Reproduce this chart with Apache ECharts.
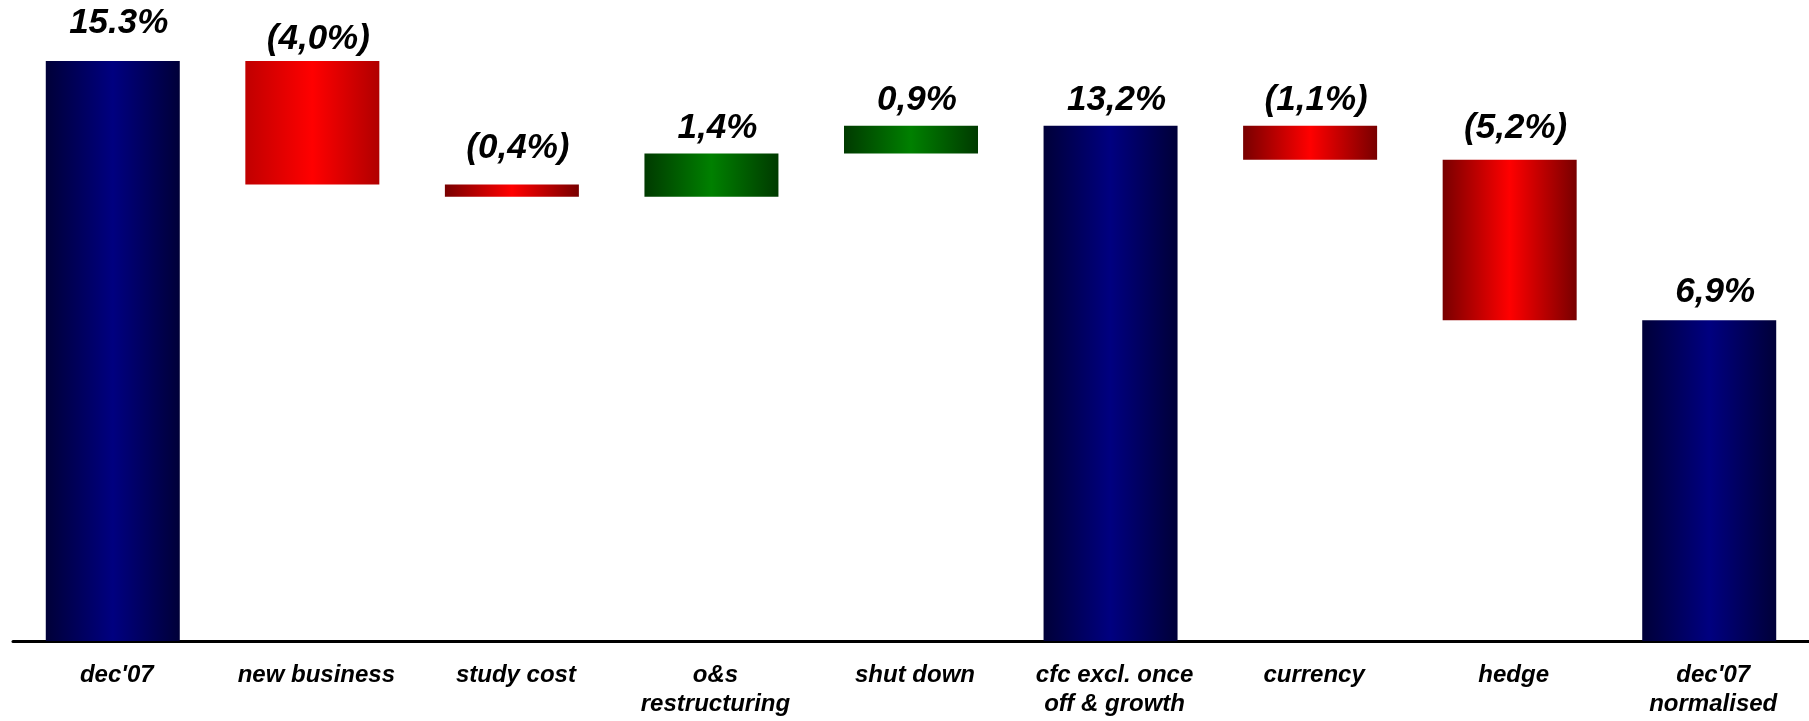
<!DOCTYPE html>
<html><head><meta charset="utf-8">
<script src="https://cdn.jsdelivr.net/npm/echarts@6/dist/echarts.min.js"></script>
<style>html,body{margin:0;padding:0;background:#fff}#c{width:1809px;height:721px}</style>
</head><body><div id="c"></div>
<script>
// ---- data ----
const categories = ["dec'07", "new business", "study cost", "o&s\nrestructuring", "shut down",
  "cfc excl. once\noff & growth", "currency", "hedge", "dec'07\nnormalised"];
const values = [15.3, -4.0, -0.4, 1.4, 0.9, 13.2, -1.1, -5.2, 6.9];
const kinds = ["total", "delta", "delta", "delta", "delta", "total", "delta", "delta", "total"];
const valueLabels = ["15.3%", "(4,0%)", "(0,4%)", "1,4%", "0,9%", "13,2%", "(1,1%)", "(5,2%)", "6,9%"];

// ---- style ----
const AXIS_MIN = -3.5, AXIS_MAX = 17;
const labelGap = [38, 22, 36, 25, 25, 25, 25, 31, 28];
const FONT = '"Liberation Sans", Arial, sans-serif';
function grad(dark, mid, dark2) {
  return new echarts.graphic.LinearGradient(0, 0, 1, 0, [
    {offset: 0, color: dark}, {offset: 0.5, color: mid}, {offset: 1, color: dark2 || dark}]);
}
function fillFor(i) {
  if (kinds[i] === 'total') return grad('#000038', '#000080');
  if (values[i] < 0) return i === 1 ? grad('#c00000', '#ff0000', '#b00000') : grad('#780000', '#ff0000');
  return grad('#003a00', '#008000');
}

// ---- build waterfall ranges ----
const seriesData = [];
let running = 0;
values.forEach((v, i) => {
  let lo, hi;
  if (kinds[i] === 'total') { lo = AXIS_MIN; hi = v; running = v; }
  else { const s = running, e = running + v; lo = Math.min(s, e); hi = Math.max(s, e); running = e; }
  seriesData.push([i, lo, hi]);
});

const chart = echarts.init(document.getElementById('c'));
chart.setOption({
  animation: false,
  backgroundColor: '#fff',
  grid: {left: 13, right: -4, top: 8.6, bottom: 80},
  xAxis: {
    type: 'category', data: categories,
    axisLine: {onZero: false, lineStyle: {color: '#000', width: 3}},
    axisTick: {show: false},
    axisLabel: {color: '#000', fontFamily: FONT, fontStyle: 'italic', fontWeight: 'bold', fontSize: 24,
      lineHeight: 29, margin: 20, interval: 0, padding: [0, 0, 0, 8]},
    splitLine: {show: false}
  },
  yAxis: {type: 'value', min: AXIS_MIN, max: AXIS_MAX, show: false, splitLine: {show: false}},
  series: [{
    type: 'custom', clip: false, data: seriesData,
    renderItem(params, api) {
      const i = api.value(0), lo = api.value(1), hi = api.value(2);
      const pt = api.coord([i, hi]), pb = api.coord([i, lo]);
      const w = 134;
      return {type: 'group', children: [
        {type: 'rect', shape: {x: pt[0] - w / 2, y: pt[1], width: w, height: pb[1] - pt[1]},
          style: {fill: fillFor(i)}},
        {type: 'text', style: {text: valueLabels[i], x: pt[0] + 6, y: pt[1] - labelGap[i],
          align: 'center', verticalAlign: 'middle', fill: '#000',
          font: 'italic bold 35px ' + FONT}}
      ]};
    }
  }]
});
</script></body></html>
